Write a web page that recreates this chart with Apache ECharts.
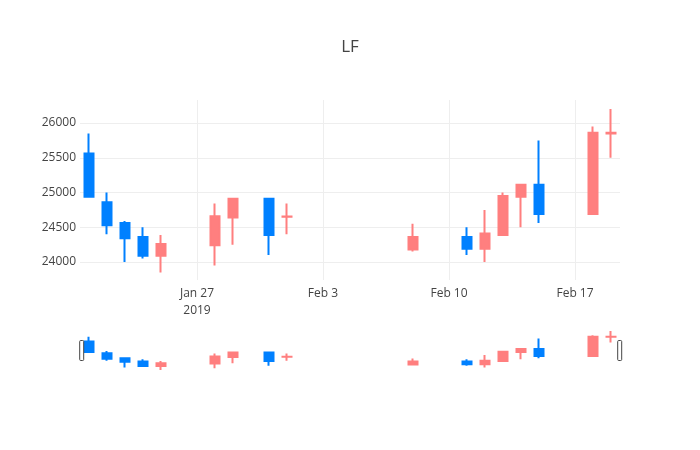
<!DOCTYPE html>
<html>
<head>
<meta charset="utf-8">
<script src="https://cdn.jsdelivr.net/npm/echarts@6/dist/echarts.min.js"></script>
<style>html,body{margin:0;padding:0;background:#fff}#c{width:700px;height:450px}</style>
</head>
<body>
<div id="c"></div>
<script>
var titleText = 'LF';
var dates = ['2019-01-21','2019-01-22','2019-01-23','2019-01-24','2019-01-25','2019-01-28','2019-01-29','2019-01-31','2019-02-01','2019-02-08','2019-02-11','2019-02-12','2019-02-13','2019-02-14','2019-02-15','2019-02-18','2019-02-19'];
var openV  = [25560,24860,24560,24360,24090,24240,24640,24910,24650,24180,24360,24190,24390,24940,25110,24690,25850];
var closeV = [24940,24530,24340,24090,24260,24660,24910,24390,24655,24360,24190,24410,24950,25110,24690,25860,25860];
var lowV   = [24940,24400,24000,24050,23850,23950,24250,24100,24400,24150,24100,24000,24390,24500,24560,24690,25500];
var highV  = [25850,25000,24590,24500,24390,24840,24910,24910,24840,24550,24500,24750,25000,25110,25750,25950,26200];
var tickDates = ['2019-01-27','2019-02-03','2019-02-10','2019-02-17'];
var yMin = 23741, yMax = 26331;

var MONTHS = ['Jan','Feb','Mar','Apr','May','Jun','Jul','Aug','Sep','Oct','Nov','Dec'];
function parseD(s){var p=s.split('-');return Date.UTC(+p[0],+p[1]-1,+p[2]);}
function fmtD(t){var d=new Date(t);return d.getUTCFullYear()+'-'+String(d.getUTCMonth()+1).padStart(2,'0')+'-'+String(d.getUTCDate()).padStart(2,'0');}
// full calendar of days spanned by the data (category axis keeps calendar spacing)
var days = [];
for (var t = parseD(dates[0]); t <= parseD(dates[dates.length-1]); t += 86400000) days.push(fmtD(t));
var idx = {}; dates.forEach(function(d,i){idx[d]=i;});
var candles = days.map(function(d){
  var i = idx[d];
  return i === undefined ? ['-','-','-','-'] : [openV[i], closeV[i], lowV[i], highV[i]];
});
var tickSet = {}; tickDates.forEach(function(d){tickSet[d]=true;});
function showTick(i){ return !!tickSet[days[i]]; }
function labelFmt(v){
  var p = v.split('-');
  var s = MONTHS[+p[1]-1] + ' ' + (+p[2]);
  if (v === tickDates[0]) s += '\n' + p[0];
  return s;
}
var UP = '#ff7f7f', DOWN = '#0080ff';
var itemStyle = {color: UP, color0: DOWN, borderColor: UP, borderColor0: DOWN, borderColorDoji: UP, borderWidth: 2};

var chart = echarts.init(document.getElementById('c'), null, {renderer:'canvas'});
chart.setOption({
  animation: false,
  backgroundColor: '#fff',
  textStyle: {fontFamily: '"Open Sans", verdana, arial, sans-serif'},
  title: {text: titleText, left: 'center', top: 34, textStyle: {fontFamily: '"Open Sans", verdana, arial, sans-serif', fontSize: 17, fontWeight: 'normal', color: '#444'}},
  grid: [
    {left: 80, right: 80, top: 100, height: 180},
    {left: 80, right: 80, top: 331, height: 39}
  ],
  xAxis: [
    {type: 'category', gridIndex: 0, data: days, boundaryGap: true,
     axisLine: {show: false}, axisTick: {show: false},
     axisLabel: {interval: function(i){return showTick(i);}, formatter: labelFmt, color: '#444', fontSize: 12, margin: 5, lineHeight: 17, fontFamily: '"Open Sans", verdana, arial, sans-serif'},
     splitLine: {show: true, alignWithLabel: true, interval: function(i){return showTick(i);}, lineStyle: {color: '#eee', width: 1}}},
    {type: 'category', gridIndex: 1, data: days, boundaryGap: true, show: false}
  ],
  yAxis: [
    {type: 'value', gridIndex: 0, min: yMin, max: yMax, scale: true, splitNumber: 5,
     axisLine: {show: false}, axisTick: {show: false},
     axisLabel: {color: '#444', fontSize: 12, margin: 4, showMinLabel: false, showMaxLabel: false, formatter: function(v){return String(v);}, fontFamily: '"Open Sans", verdana, arial, sans-serif'},
     splitLine: {show: true, showMinLine: false, showMaxLine: false, lineStyle: {color: '#eee', width: 1}}},
    {type: 'value', gridIndex: 1, min: 'dataMin', max: 'dataMax', scale: true, show: false, splitLine: {show: false}}
  ],
  dataZoom: [{
    type: 'slider', xAxisIndex: 1, filterMode: 'none', start: 0, end: 100,
    left: 80, right: 80, top: 331, height: 39,
    showDataShadow: false, showDetail: false, brushSelect: false, realtime: false,
    backgroundColor: 'rgba(0,0,0,0)', fillerColor: 'rgba(0,0,0,0)', borderColor: 'rgba(0,0,0,0)',
    dataBackground: {lineStyle: {opacity: 0}, areaStyle: {opacity: 0}},
    selectedDataBackground: {lineStyle: {opacity: 0}, areaStyle: {opacity: 0}},
    handleIcon: 'path://M1,0 h2 a1,1 0 0 1 1,1 v18 a1,1 0 0 1 -1,1 h-2 a1,1 0 0 1 -1,-1 v-18 a1,1 0 0 1 1,-1 z',
    handleSize: 20,
    handleStyle: {color: '#fff', borderColor: '#444', borderWidth: 1},
    moveHandleSize: 0,
    moveHandleStyle: {opacity: 0}
  }],
  series: [
    {type: 'candlestick', xAxisIndex: 0, yAxisIndex: 0, data: candles, barWidth: 9, itemStyle: itemStyle},
    {type: 'candlestick', xAxisIndex: 1, yAxisIndex: 1, data: candles, barWidth: 9, itemStyle: itemStyle, silent: true}
  ]
});
</script>
</body>
</html>
